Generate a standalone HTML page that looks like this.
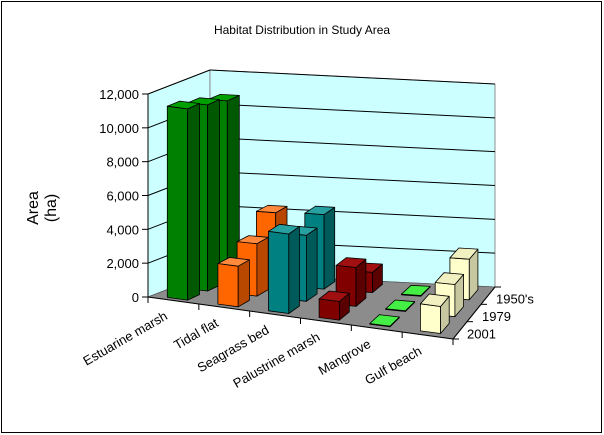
<!DOCTYPE html>
<html><head><meta charset="utf-8"><style>
body{margin:0;background:#fff;}
svg{display:block;font-family:"Liberation Sans",Arial,sans-serif;}
</style></head><body>
<svg id="chart" width="604" height="435" viewBox="0 0 604 435">
<rect x="1.5" y="1.5" width="600" height="431" fill="#fff" stroke="#000" stroke-width="1"/>
<text x="302" y="34" font-size="12" text-anchor="middle">Habitat Distribution in Study Area</text>
<g font-size="16">
<text transform="translate(38,208) rotate(-90)" text-anchor="middle">Area</text>
<text transform="translate(56,208) rotate(-90)" text-anchor="middle">(ha)</text>
</g>
<g id="walls"></g><g id="bars"></g><g id="axes"></g>
</svg>
<script>
const categories=["Estuarine marsh","Tidal flat","Seagrass bed","Palustrine marsh","Mangrove","Gulf beach"];
const seriesNames=["2001","1979","1950's"];
const values2001=[11300,2400,4700,1100,40,1600];
const values1979=[11000,3100,3900,2300,40,1900];
const values1950=[10700,4300,4400,1200,40,2400];
const yTicks=[0,2000,4000,6000,8000,10000,12000];
const yTickLabels=["0","2,000","4,000","6,000","8,000","10,000","12,000"];
const series=[values2001,values1979,values1950];
const colors=[["#008000","#005800","#00a000"],["#ff6600","#b84800","#ff8a3d"],["#008080","#005a5a","#26a0a0"],["#800000","#5a0000","#a01010"],["#33dd33","#22aa22","#44ee44"],["#ffffcc","#c8c8a0","#f0f0c0"]];
const NS="http://www.w3.org/2000/svg";
const FL=[148,297],FR=[453,339],BR=[495,287],BL=[210,273];
const YMAX=12000,HPX=203;
function P(u,v,h){const fx=FL[0]+(FR[0]-FL[0])*u,fy=FL[1]+(FR[1]-FL[1])*u;const bx=BL[0]+(BR[0]-BL[0])*u,by=BL[1]+(BR[1]-BL[1])*u;return [fx+(bx-fx)*v,fy+(by-fy)*v-(h||0)/YMAX*HPX];}
function poly(g,pts,fill,name){const p=document.createElementNS(NS,'polygon');p.setAttribute('points',pts.map(q=>q[0].toFixed(1)+','+q[1].toFixed(1)).join(' '));p.setAttribute('fill',fill);p.setAttribute('stroke','#000');p.setAttribute('stroke-width','0.8');p.setAttribute('stroke-linejoin','round');


g.appendChild(p);return p;}
function line(g,a,b,name,w){const l=document.createElementNS(NS,'line');l.setAttribute('x1',a[0]);l.setAttribute('y1',a[1]);l.setAttribute('x2',b[0]);l.setAttribute('y2',b[1]);l.setAttribute('stroke','#000');l.setAttribute('stroke-width',w||1);


g.appendChild(l);}
function text(g,x,y,s,anchor,name,tr){const t=document.createElementNS(NS,'text');t.setAttribute('x',x);t.setAttribute('y',y);t.setAttribute('font-size','13');t.setAttribute('text-anchor',anchor);if(tr)t.setAttribute('transform',tr);t.textContent=s;


g.appendChild(t);}
const W=document.getElementById('walls'),B=document.getElementById('bars'),A=document.getElementById('axes');
poly(W,[P(0,0,0),P(0,1,0),P(0,1,YMAX),P(0,0,YMAX)],'#ccffff','left-wall').setAttribute('stroke','#777');
poly(W,[P(0,1,0),P(1,1,0),P(1,1,YMAX),P(0,1,YMAX)],'#ccffff','back-wall').setAttribute('stroke','#777');
poly(W,[P(0,0,0),P(1,0,0),P(1,1,0),P(0,1,0)],'#8c8c8c','floor').setAttribute('stroke','#555');
yTicks.forEach((t,i)=>{if(t===0)return;line(W,P(0,0,t),P(0,1,t),'left-gridline',1);line(W,P(0,1,t),P(1,1,t),'back-gridline',1);});
// bars back to front, left to right
for(let j=2;j>=0;j--){for(let i=0;i<6;i++){const h=series[j][i];const c=colors[i];
const u0=(i+0.5)/6-0.2/6,u1=(i+0.5)/6+0.2/6,v0=(j+0.5)/3-0.3/3,v1=(j+0.5)/3+0.3/3;
const g=document.createElementNS(NS,'g');


B.appendChild(g);
poly(g,[P(u0,v0,0),P(u1,v0,0),P(u1,v0,h),P(u0,v0,h)],c[0],'bar-front');
poly(g,[P(u1,v0,0),P(u1,v1,0),P(u1,v1,h),P(u1,v0,h)],c[1],'bar-side');
poly(g,[P(u0,v0,h),P(u1,v0,h),P(u1,v1,h),P(u0,v1,h)],c[2],'bar-top');}}
// y axis
line(A,P(0,0,0),P(0,0,YMAX),'y-axis-line',1);
yTicks.forEach((t,i)=>{const p=P(0,0,t);line(A,[p[0]-6,p[1]],p,'y-tick',1);text(A,p[0]-9,p[1]+5,yTickLabels[i],'end','y-tick-label');});
// x axis
line(A,P(0,0,0),P(1,0,0),'x-axis-line',1);
for(let i=0;i<=6;i++){const p=P(i/6,0,0);line(A,p,[p[0],p[1]+6],'x-tick',1);}
categories.forEach((c,i)=>{const p=P((i+0.5)/6,0,0);const x=p[0]-5,y=p[1]+18;text(A,x,y,c,'end','category-label','rotate(-30 '+x+' '+y+')');});
// depth axis
line(A,P(1,0,0),P(1,1,0),'depth-axis-line',1);
for(let j=0;j<=3;j++){const p=P(1,j/3,0);line(A,p,[p[0]+6,p[1]],'depth-tick',1);}
seriesNames.forEach((s,j)=>{const p=P(1,(j+0.5)/3,0);text(A,p[0]+8+(j===0?-1:0),p[1]+8,s,'start','series-label');});
</script>
</body></html>
